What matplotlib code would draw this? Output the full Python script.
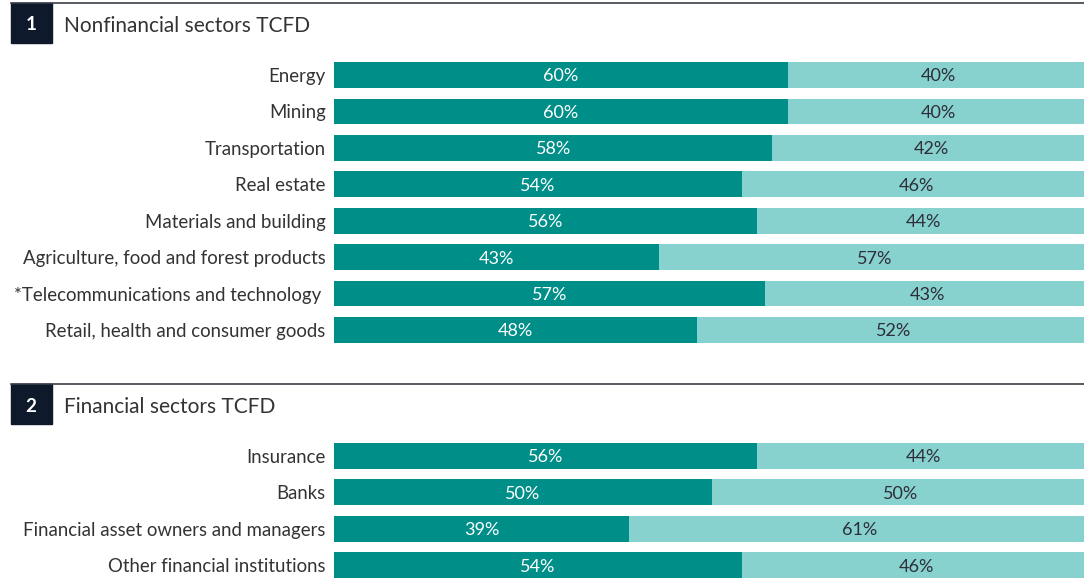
import matplotlib.pyplot as plt
from matplotlib.patches import Rectangle
from matplotlib.lines import Line2D

# -----------------------------
# Data
# -----------------------------
nonfin_sectors = ["Energy", "Mining", "Transportation", "Real estate",
                  "Materials and building", "Agriculture, food and forest products",
                  "*Telecommunications and technology ", "Retail, health and consumer goods"]
nonfin_yes = [60, 60, 58, 54, 56, 43, 57, 48]
nonfin_no = [40, 40, 42, 46, 44, 57, 43, 52]

fin_sectors = ["Insurance", "Banks", "Financial asset owners and managers",
               "Other financial institutions"]
fin_yes = [56, 50, 39, 54]
fin_no = [44, 50, 61, 46]

# -----------------------------
# Style
# -----------------------------
plt.rcParams['font.family'] = ['Lato', 'DejaVu Sans']
DARK = "#008e88"
LIGHT = "#87d1cf"
NAVY = "#0e1a2b"
TXT = "#333333"
NUM = "#2e2e38"

W, H = 1084, 579
fig = plt.figure(figsize=(W / 100, H / 100), dpi=100)


def px_axes(top, bottom):
    # axes rectangle from pixel rows (bars run a little past the right edge)
    left, right = 334, 1090
    return fig.add_axes([left / W, 1 - bottom / H, (right - left) / W, (bottom - top) / H])


def draw_panel(ax, labels, yes, no):
    y = range(len(labels))
    ax.barh(y, yes, height=0.71, color=DARK)
    ax.barh(y, no, left=yes, height=0.71, color=LIGHT)
    for i, (a, b) in enumerate(zip(yes, no)):
        ax.text(a / 2, i + 0.04, f"{a}%", ha="center", va="center", color="white", fontsize=13)
        ax.text(a + b / 2, i + 0.04, f"{b}%", ha="center", va="center", color=NUM, fontsize=13)
    ax.set_xlim(0, 100)
    ax.set_ylim(len(labels) - 0.5, -0.5)
    ax.set_yticks(list(y))
    ax.set_yticklabels(labels, fontsize=13.4, color=TXT)
    ax.tick_params(axis="y", length=0, pad=6)
    ax.set_xticks([])
    for s in ax.spines.values():
        s.set_visible(False)


def header(top, num, title):
    fig.add_artist(Line2D([11 / W, 1], [1 - top / H, 1 - top / H], color="#3a3f48", lw=1.2))
    fig.add_artist(Rectangle((11 / W, 1 - (top + 40) / H), 41 / W, 40 / H,
                             color=NAVY, transform=fig.transFigure))
    fig.text(31 / W, 1 - (top + 22) / H, num, color="white", fontsize=13.5,
             fontweight="bold", ha="center", va="center")
    fig.text(64 / W, 1 - (top + 23) / H, title, color=TXT, fontsize=15,
             ha="left", va="center")


header(3, "1", "Nonfinancial sectors TCFD")
header(384, "2", "Financial sectors TCFD")

ax1 = px_axes(56.8, 348.2)
draw_panel(ax1, nonfin_sectors, nonfin_yes, nonfin_no)

ax2 = px_axes(437.8, 583.3)
draw_panel(ax2, fin_sectors, fin_yes, fin_no)

fig.savefig("out.png", dpi=100)
